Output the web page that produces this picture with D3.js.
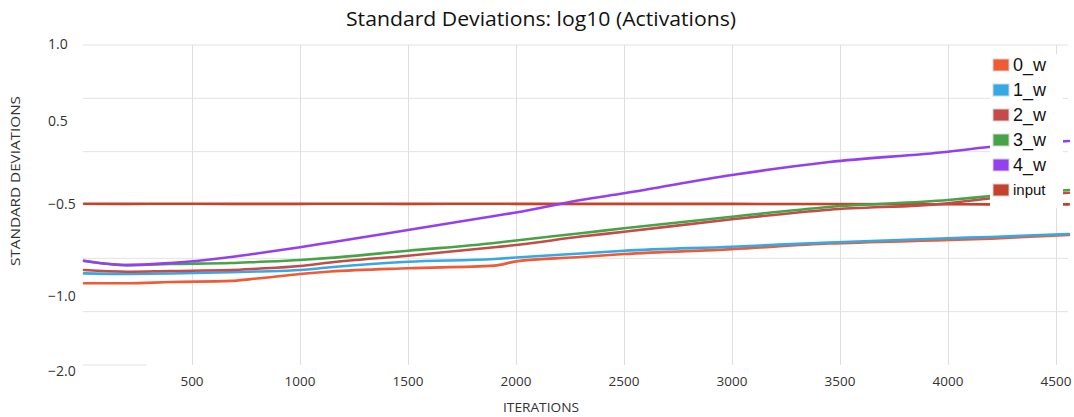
<!DOCTYPE html>
<html>
<head>
<meta charset="utf-8">
<script src="https://cdn.jsdelivr.net/npm/d3@7"></script>
<style>
  html, body { margin: 0; padding: 0; background: #fff; }
  svg { display: block; }
</style>
</head>
<body>
<svg id="chart" width="1074" height="417"></svg>
<script>
// Training iterations at which the curves are sampled
const iterations = [0, 200, 400, 680, 800, 1000, 1140, 1500, 1900, 2000, 2300, 2500, 3000, 3450, 4000, 4200, 4560];

// log10 standard deviation of activations, one array per layer
const w0    = [-0.931, -0.931, -0.924, -0.918, -0.905, -0.880, -0.867, -0.849, -0.835, -0.812, -0.788, -0.772, -0.745, -0.715, -0.696, -0.688, -0.668];
const w1    = [-0.877, -0.880, -0.878, -0.871, -0.867, -0.859, -0.844, -0.814, -0.799, -0.791, -0.769, -0.754, -0.732, -0.709, -0.686, -0.679, -0.663];
const w2    = [-0.859, -0.868, -0.864, -0.859, -0.852, -0.837, -0.818, -0.781, -0.735, -0.723, -0.677, -0.651, -0.583, -0.531, -0.492, -0.431, -0.364];
const w3    = [-0.810, -0.832, -0.826, -0.821, -0.815, -0.804, -0.793, -0.754, -0.712, -0.698, -0.659, -0.632, -0.569, -0.516, -0.452, -0.404, -0.331];
const w4    = [-0.808, -0.832, -0.821, -0.788, -0.769, -0.735, -0.709, -0.641, -0.565, -0.546, -0.452, -0.371, -0.151, 0.006, 0.130, 0.190, 0.259];
const input = [-0.497, -0.498, -0.497, -0.498, -0.498, -0.498, -0.497, -0.498, -0.497, -0.498, -0.498, -0.499, -0.499, -0.500, -0.501, -0.502, -0.502];

const seriesNames = ["0_w", "1_w", "2_w", "3_w", "4_w", "input"];
const seriesColors = ["#f05a35", "#35a9e6", "#c44b48", "#45a446", "#9440ee", "#c6432b"];
const seriesValues = [w0, w1, w2, w3, w4, input];
// drawing order (first drawn ends up underneath)
const drawOrder = [5, 0, 1, 2, 3, 4];

const xTicks = [500, 1000, 1500, 2000, 2500, 3000, 3500, 4000, 4500];
const yTicks = [1.0, 0.5, -0.5, -1.0, -2.0];
const gridRows = 6;

const svg = d3.select("#chart");

// scales
const x = d3.scaleLinear().domain([0, 4500]).range([84, 1056]);
const y = d3.scaleLinear().domain([-2, -1, -0.5, 0.5, 1]).range([371, 296, 204, 121, 44]);
const grid = d3.scaleLinear().domain([0, gridRows]).range([365, 45]);

// horizontal grid
const gridG = svg.append("g").attr("class", "grid");
gridG.selectAll("line.h")
  .data(d3.range(1, gridRows + 1))
  .join("line")
  .attr("class", "h")
  .attr("x1", x(-5)).attr("x2", x(4555))
  .attr("y1", d => grid(d)).attr("y2", d => grid(d))
  .attr("stroke", "#e3e3e3").attr("stroke-width", 1);
gridG.append("line")
  .attr("x1", x(-5)).attr("x2", x(290))
  .attr("y1", grid(0)).attr("y2", grid(0))
  .attr("stroke", "#e3e3e3").attr("stroke-width", 1);

// vertical grid
gridG.selectAll("line.v")
  .data(xTicks)
  .join("line")
  .attr("class", "v")
  .attr("x1", d => Math.round(x(d)) + 0.5).attr("x2", d => Math.round(x(d)) + 0.5)
  .attr("y1", grid(gridRows)).attr("y2", grid(0))
  .attr("stroke", "#dedede").attr("stroke-width", 1);

// soft edge on the lines
const defs = svg.append("defs");
defs.append("filter").attr("id", "soft")
  .attr("x", "-5%").attr("y", "-50%").attr("width", "110%").attr("height", "200%")
  .append("feGaussianBlur").attr("stdDeviation", 0.55);

const line = d3.line()
  .x(d => x(d[0]))
  .y(d => y(d[1]))
  .curve(d3.curveMonotoneX);

const linesG = svg.append("g").attr("filter", "url(#soft)");
drawOrder.forEach(i => {
  const pts = iterations.map((it, k) => [it, seriesValues[i][k]]);
  linesG.append("path")
    .datum(pts)
    .attr("d", line)
    .attr("fill", "none")
    .attr("stroke", seriesColors[i])
    .attr("stroke-width", 2.6)
    .attr("stroke-linejoin", "round")
    .attr("stroke-linecap", "round");
});

// y tick labels
svg.append("g").selectAll("text")
  .data(yTicks)
  .join("text")
  .attr("x", 48)
  .attr("y", d => y(d))
  .attr("dy", "0.35em")
  .attr("font-family", "'Open Sans', sans-serif")
  .attr("font-size", 14)
  .attr("fill", "#333")
  .text(d => d3.format(".1f")(d));

// x tick labels
svg.append("g").selectAll("text")
  .data(xTicks)
  .join("text")
  .attr("x", d => x(d))
  .attr("y", 386)
  .attr("text-anchor", "middle")
  .attr("font-family", "'Open Sans', sans-serif")
  .attr("font-size", 13)
  .attr("fill", "#333")
  .attr("textLength", d => String(d).length * 7.7)
  .attr("lengthAdjust", "spacingAndGlyphs")
  .text(d => d);

// axis titles
svg.append("text")
  .attr("x", 541).attr("y", 412)
  .attr("text-anchor", "middle")
  .attr("font-family", "'Open Sans', sans-serif")
  .attr("font-size", 13)
  .attr("fill", "#333")
  .attr("textLength", 76)
  .attr("lengthAdjust", "spacingAndGlyphs")
  .text("ITERATIONS");

svg.append("text")
  .attr("transform", "translate(20,181) rotate(-90)")
  .attr("text-anchor", "middle")
  .attr("font-family", "'Open Sans', sans-serif")
  .attr("font-size", 13)
  .attr("fill", "#333")
  .attr("textLength", 170)
  .attr("lengthAdjust", "spacingAndGlyphs")
  .text("STANDARD DEVIATIONS");

// chart title
svg.append("text")
  .attr("x", 541).attr("y", 26)
  .attr("text-anchor", "middle")
  .attr("font-family", "'Open Sans', sans-serif")
  .attr("font-size", 20)
  .attr("fill", "#111")
  .attr("textLength", 390)
  .attr("lengthAdjust", "spacingAndGlyphs")
  .text("Standard Deviations: log10 (Activations)");

// legend
const legend = svg.append("g");
legend.append("rect")
  .attr("x", 990).attr("y", 54).attr("width", 73).attr("height", 154)
  .attr("fill", "#fff");
const item = legend.selectAll("g.item")
  .data(seriesNames)
  .join("g")
  .attr("class", "item")
  .attr("transform", (d, i) => `translate(993,${65 + i * 25})`);
item.append("rect")
  .attr("x", 0).attr("y", -6).attr("width", 16).attr("height", 12)
  .attr("fill", (d, i) => seriesColors[i])
  .attr("stroke", "#d6d6d6").attr("stroke-width", 1);
item.append("text")
  .attr("x", 20).attr("y", 0)
  .attr("dy", "0.36em")
  .attr("font-family", "'Liberation Sans', Arial, sans-serif")
  .attr("font-size", d => d === "input" ? 15 : 18)
  .attr("fill", "#111")
  .text(d => d);
</script>
</body>
</html>
